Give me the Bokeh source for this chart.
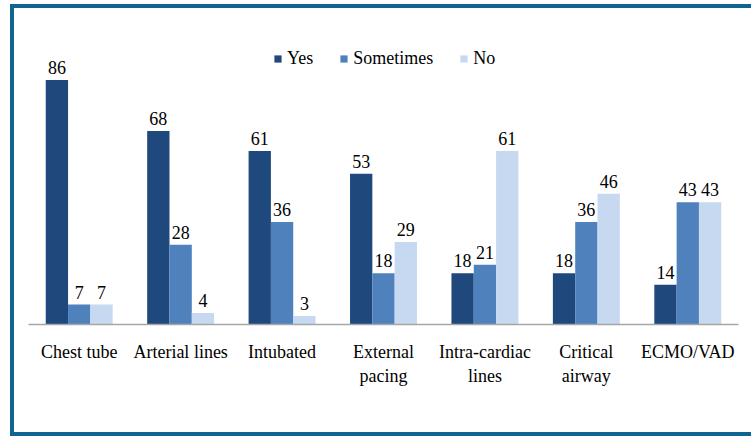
from bokeh.plotting import figure
from bokeh.models import ColumnDataSource, Range1d, FactorRange, LabelSet, InlineStyleSheet
from bokeh.core.properties import value
from bokeh.transform import dodge
from bokeh.embed import file_html
from bokeh.resources import INLINE

categories = ["Chest tube", "Arterial lines", "Intubated", "External\npacing",
              "Intra-cardiac\nlines", "Critical\nairway", "ECMO/VAD"]
yes = [86, 68, 61, 53, 18, 18, 14]
sometimes = [7, 28, 36, 18, 21, 36, 43]
no = [7, 4, 3, 29, 61, 46, 43]
series_names = ["Yes", "Sometimes", "No"]
colors = ["#1f497d", "#4f81bd", "#c6d9f1"]

FONT = "Liberation Serif"
FS = "18px"

src = ColumnDataSource(dict(cat=categories, Yes=yes, Sometimes=sometimes, No=no,
                            Yes_t=[str(v) for v in yes],
                            Sometimes_t=[str(v) for v in sometimes],
                            No_t=[str(v) for v in no]))

p = figure(width=751, height=436, x_range=FactorRange(*categories, range_padding=0),
           y_range=Range1d(0, 109), output_backend="svg", toolbar_location=None,
           min_border_left=28, min_border_right=13, min_border_top=14, min_border_bottom=112)
p.background_fill_color = "white"
p.border_fill_color = "white"
p.outline_line_color = None
p.xgrid.grid_line_color = None
p.ygrid.grid_line_color = None
p.yaxis.visible = False

bc = "#106491"
p.stylesheets = [InlineStyleSheet(css=f"""
:host {{ position: relative; }}
:host::after {{
  content: ""; position: absolute; left: 10px; top: 4px; width: 741px; height: 432px;
  box-sizing: border-box; border-left: 4px solid {bc}; border-top: 4px solid {bc};
  border-bottom: 4px solid {bc}; pointer-events: none; z-index: 10;
}}
""")]

offsets = [-0.22, 0.0, 0.22]
for name, col, off in zip(series_names, colors, offsets):
    p.vbar(x=dodge("cat", off, range=p.x_range), top=name, width=0.22, source=src,
           fill_color=col, line_color=None, legend_label=name)
    lbl = LabelSet(x=dodge("cat", off, range=p.x_range), y=name, text=name + "_t",
                   source=src, text_align="center", text_baseline="bottom", y_offset=6,
                   text_font=value(FONT), text_font_size=value(FS), text_color="black")
    p.add_layout(lbl)

ax = p.xaxis[0]
ax.axis_line_color = "#a6a6a6"
ax.axis_line_width = 1.5
ax.major_tick_line_color = None
ax.minor_tick_line_color = None
ax.major_label_text_font = FONT
ax.major_label_text_font_size = FS
ax.major_label_text_color = "black"
ax.major_label_standoff = 11
ax.major_label_text_line_height = 1.2

leg = p.legend[0]
leg.orientation = "horizontal"
leg.location = (245, 255)
leg.border_line_color = None
leg.background_fill_alpha = 0
leg.padding = 0
leg.margin = 0
leg.spacing = 26
leg.glyph_width = 9
leg.glyph_height = 9
leg.label_standoff = 5
leg.label_text_font = FONT
leg.label_text_font_size = FS
leg.label_text_color = "black"
leg.label_height = 18

open("out.html", "w").write(file_html(p, INLINE))
